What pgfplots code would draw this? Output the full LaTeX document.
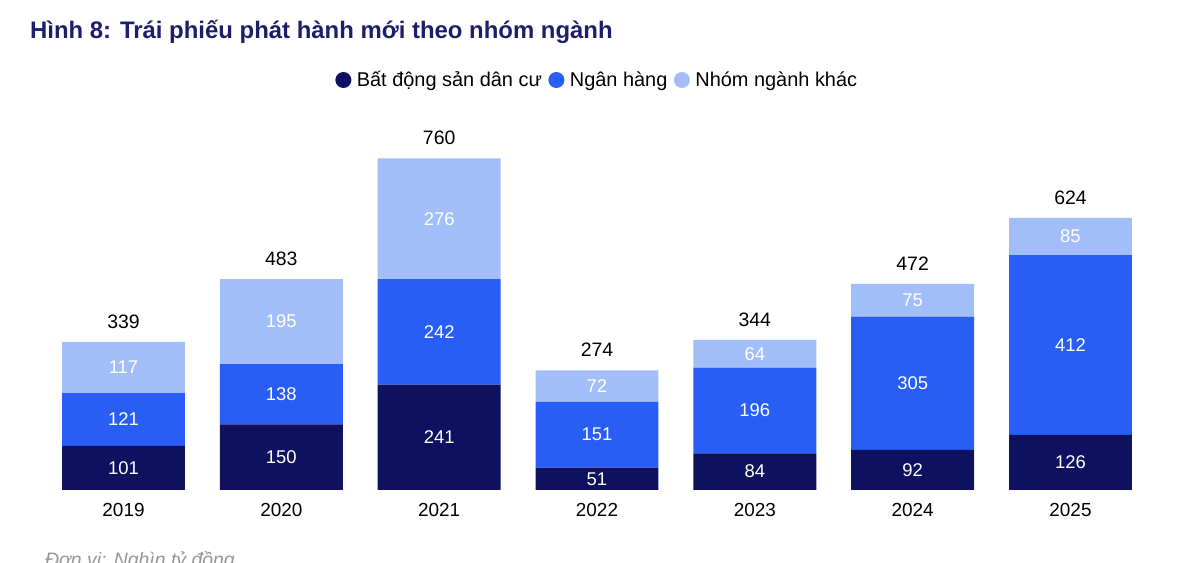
\documentclass[border=0pt]{standalone}
\usepackage{pgfplots}
\pgfplotsset{compat=1.18}
\usepackage{pgfplotstable}
\usepackage{fontspec}
\setmainfont{Liberation Sans}
\definecolor{cDark}{RGB}{13,17,96}
\definecolor{cMid}{RGB}{40,94,245}
\definecolor{cLight}{RGB}{162,190,249}
\definecolor{cTitle}{RGB}{27,31,107}
\definecolor{cFoot}{RGB}{150,150,150}

\pgfplotstableread{
x bds nh khac tot
0 101 121 117 339
1 150 138 195 483
2 241 242 276 760
3 51 151 72 274
4 84 196 64 344
5 92 305 75 472
6 126 412 85 624
}\data

% stacked bars: pgfplots already puts the node in the middle of each segment
\pgfplotsset{
  centered nodes/.style={
    nodes near coords,
    point meta=rawy,
    every node near coord/.style={
      anchor=center,
      text=white,
      font=\fontsize{18.5}{22}\selectfont
    }
  }
}

\begin{document}
\begin{tikzpicture}[x=1bp,y=1bp]
\begin{axis}[
  width=1104.8bp, height=349.4bp, scale only axis,
  xmin=-0.5, xmax=6.5, ymin=0, ymax=800,
  axis line style={draw=none},
  ytick=\empty,
  xtick={0,...,6},
  xticklabels={2019,2020,2021,2022,2023,2024,2025},
  major tick length=0,
  xticklabel style={anchor=center, yshift=-20bp, font=\fontsize{19}{22}\selectfont},
  ybar stacked, bar width=0.779,
  /pgf/number format/assume math mode=true,
  legend style={draw=none, at={(0.5,1.1734)}, anchor=center,
    font=\fontsize{20}{23}\selectfont, legend columns=3,
    /tikz/every even column/.append style={column sep=5bp},
    nodes={inner sep=1.5bp}},
  legend image code/.code={\fill[#1] (0bp,0bp) circle (8bp); \path (-8bp,0bp) (12bp,0bp);},
]
\coordinate (O) at (rel axis cs:0,0);
\addplot[fill=cDark, draw=none, centered nodes] table[x=x, y=bds] \data;
\addlegendentry{Bất động sản dân cư}
\addplot[fill=cMid, draw=none, centered nodes] table[x=x, y=nh] \data;
\addlegendentry{Ngân hàng}
\addplot[fill=cLight, draw=none, centered nodes] table[x=x, y=khac] \data;
\addlegendentry{Nhóm ngành khác}
\addplot[draw=none, fill=none, nodes near coords, point meta=explicit,
  every node near coord/.style={anchor=south, text=black, yshift=10bp,
    font=\fontsize{19.5}{22}\selectfont}]
  table[x=x, y expr=0.01, meta=tot] \data;
\end{axis}
\begin{scope}[shift={(O)}]
\node[anchor=base west, inner sep=0, text=cTitle,
  font=\fontsize{24}{28}\selectfont\bfseries] at (-14.6,451) {Hình 8: Trái phiếu phát hành mới theo nhóm ngành};
\node[anchor=base west, inner sep=0, text=cFoot,
  font=\fontsize{19.5}{22}\selectfont\itshape] at (0.4,-77) {Đơn vị: Nghìn tỷ đồng};
\pgfresetboundingbox
\path[use as bounding box] (-44.6,-73) rectangle (1155.4,490);
\end{scope}
\end{tikzpicture}
\end{document}
